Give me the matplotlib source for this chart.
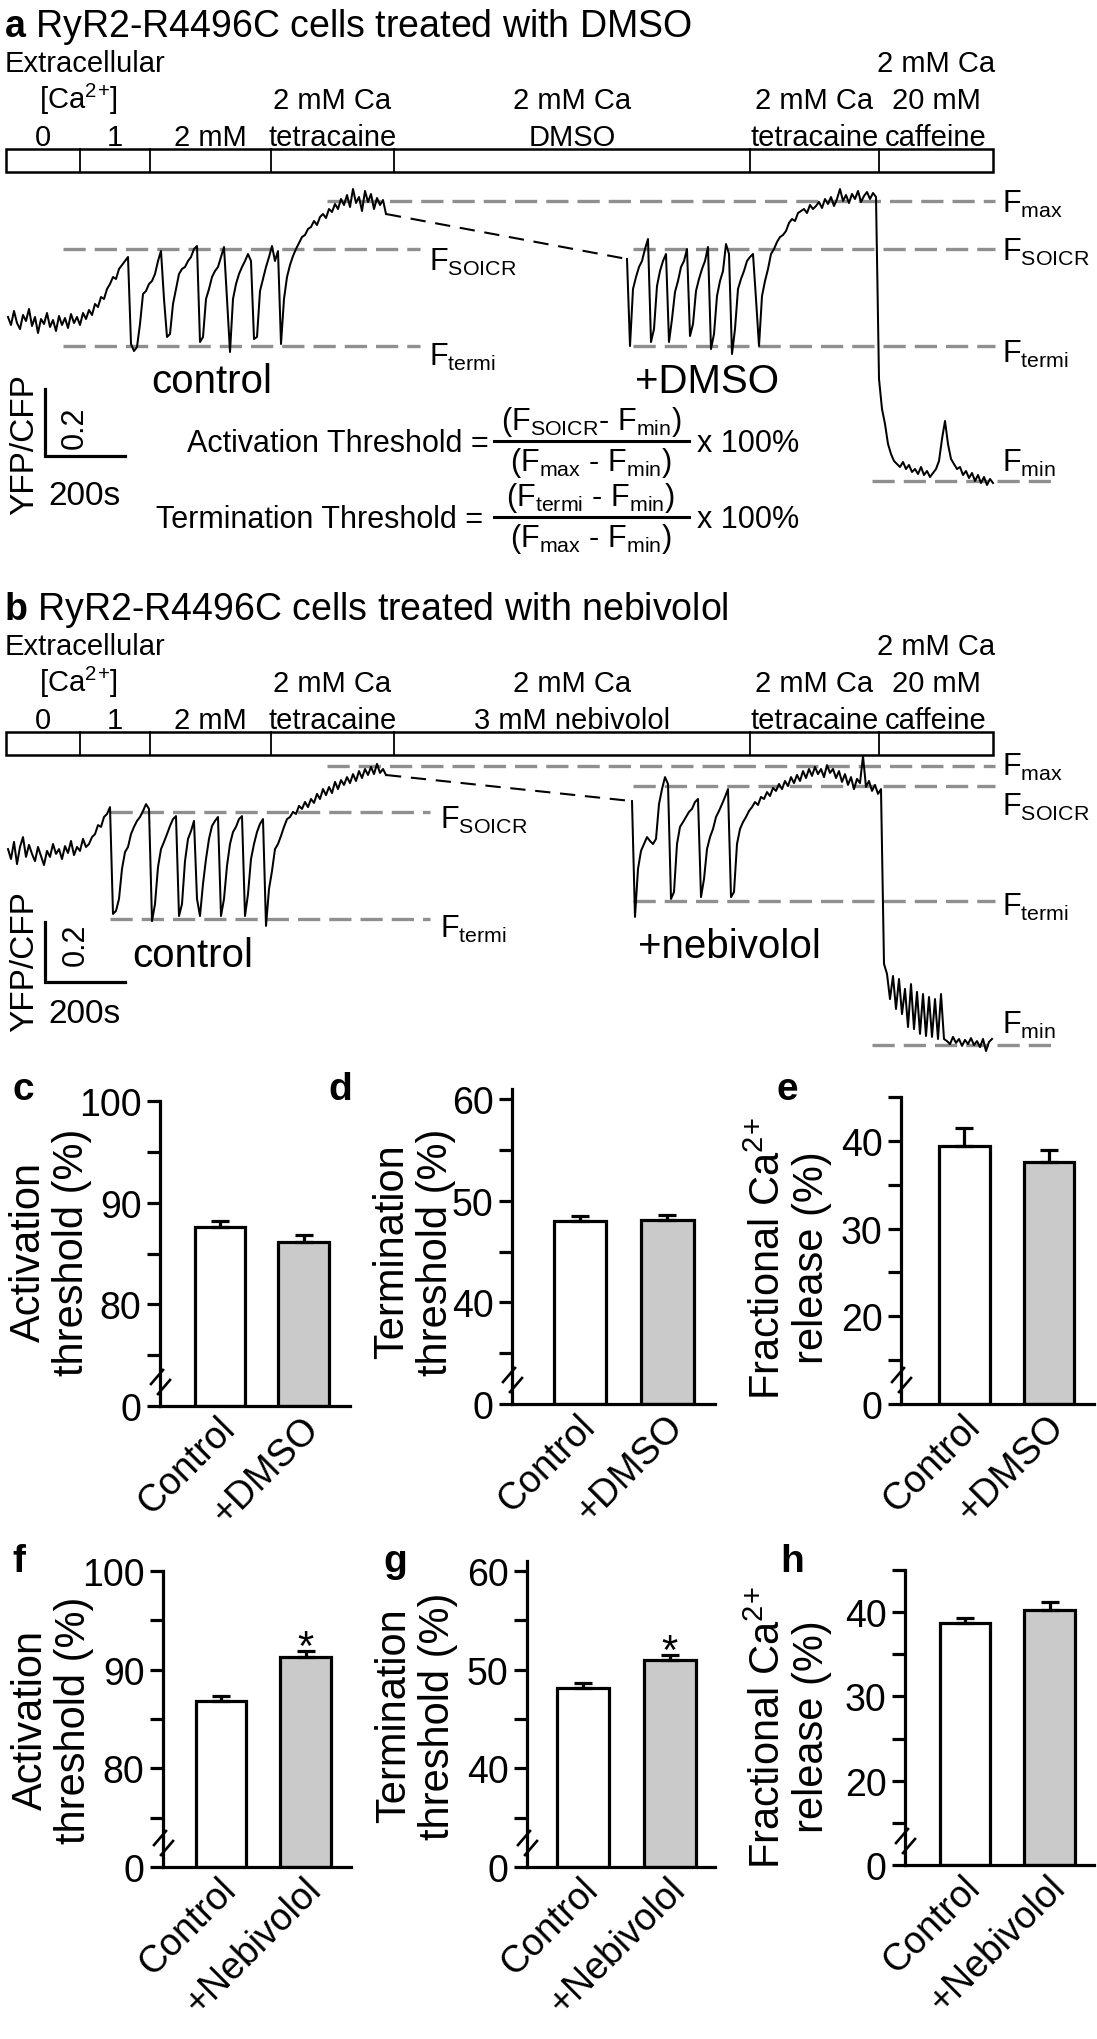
import matplotlib
matplotlib.use("Agg")
import matplotlib.pyplot as plt
import matplotlib.transforms as mtransforms
from matplotlib.patches import Rectangle
import numpy as np

plt.rcParams['font.family'] = ['Liberation Sans', 'DejaVu Sans']
plt.rcParams['mathtext.fontset'] = 'custom'
plt.rcParams['mathtext.rm'] = 'Liberation Sans'
plt.rcParams['mathtext.it'] = 'Liberation Sans:italic'
plt.rcParams['mathtext.bf'] = 'Liberation Sans:bold'
plt.rcParams['lines.scale_dashes'] = False

W, H = 1097, 2040

# ---------------- FRET traces (YFP/CFP ratio), one sample every 7.5 s
dt = 7.5
a_ctrl_t0 = 5.0
a_ctrl = [0.846, 0.822, 0.864, 0.828, 0.810, 0.852, 0.834, 0.870, 0.819, 0.846,
          0.798, 0.840, 0.825, 0.858, 0.816, 0.837, 0.804, 0.849, 0.822, 0.843,
          0.813, 0.855, 0.828, 0.846, 0.822, 0.858, 0.840, 0.867, 0.852, 0.885,
          0.876, 0.906, 0.900, 0.930, 0.945, 0.966, 0.960, 0.990, 1.002, 1.014,
          1.026, 0.765, 0.744, 0.756, 0.825, 0.915, 0.924, 0.945, 0.954, 0.975,
          1.014, 1.044, 0.900, 0.786, 0.795, 0.885, 0.930, 0.975, 0.990, 0.996,
          1.014, 1.026, 1.050, 1.059, 0.771, 0.786, 0.900, 0.930, 0.966, 0.984,
          0.996, 1.026, 1.056, 0.900, 0.741, 0.900, 0.945, 0.975, 0.996, 1.014,
          1.035, 1.014, 0.780, 0.786, 0.924, 0.960, 0.996, 1.026, 1.059, 1.014,
          1.044, 0.765, 0.900, 0.966, 1.002, 1.029, 1.050, 1.068, 1.086, 1.092,
          1.110, 1.116, 1.134, 1.122, 1.146, 1.155, 1.143, 1.170, 1.161, 1.185,
          1.170, 1.200, 1.182, 1.212, 1.176, 1.230, 1.188, 1.206, 1.164, 1.224,
          1.191, 1.215, 1.170, 1.203, 1.182, 1.197, 1.155]
a_drug_t0 = 1552.5
a_drug = [1.020, 0.759, 0.930, 0.966, 0.996, 1.014, 1.050, 1.080, 0.771, 0.810,
          0.939, 0.984, 1.014, 1.035, 0.771, 0.840, 0.921, 0.954, 0.996, 1.014,
          1.050, 0.789, 0.825, 0.924, 0.960, 0.990, 1.014, 1.056, 0.750, 0.795,
          0.909, 0.954, 0.984, 1.065, 1.035, 0.735, 0.810, 0.930, 0.960, 0.984,
          1.014, 1.026, 1.035, 0.900, 0.759, 0.909, 0.954, 0.990, 1.035, 1.050,
          1.071, 1.086, 1.092, 1.104, 1.128, 1.140, 1.134, 1.158, 1.164, 1.170,
          1.158, 1.182, 1.170, 1.179, 1.191, 1.173, 1.200, 1.185, 1.206, 1.179,
          1.200, 1.230, 1.194, 1.212, 1.188, 1.215, 1.200, 1.224, 1.191, 1.209,
          1.221, 1.200, 1.218, 1.206, 0.660, 0.570, 0.525, 0.465, 0.435, 0.414,
          0.405, 0.396, 0.411, 0.390, 0.402, 0.381, 0.390, 0.375, 0.396, 0.372,
          0.384, 0.366, 0.378, 0.390, 0.414, 0.480, 0.534, 0.465, 0.420, 0.405,
          0.390, 0.396, 0.372, 0.384, 0.363, 0.378, 0.354, 0.372, 0.348, 0.366,
          0.342, 0.360, 0.348]
b_ctrl_t0 = 5.0
b_ctrl = [0.833, 0.800, 0.857, 0.783, 0.840, 0.873, 0.807, 0.847, 0.817, 0.793,
          0.840, 0.810, 0.780, 0.827, 0.807, 0.850, 0.817, 0.833, 0.800, 0.843,
          0.820, 0.860, 0.813, 0.840, 0.827, 0.867, 0.840, 0.850, 0.873, 0.883,
          0.913, 0.907, 0.940, 0.950, 0.973, 0.617, 0.627, 0.667, 0.767, 0.823,
          0.840, 0.883, 0.907, 0.927, 0.940, 0.960, 0.983, 0.967, 0.593, 0.650,
          0.773, 0.833, 0.857, 0.883, 0.910, 0.933, 0.943, 0.610, 0.650, 0.793,
          0.867, 0.893, 0.927, 0.667, 0.610, 0.717, 0.800, 0.867, 0.910, 0.927,
          0.940, 0.610, 0.667, 0.777, 0.850, 0.890, 0.907, 0.933, 0.943, 0.610,
          0.683, 0.800, 0.850, 0.890, 0.917, 0.933, 0.577, 0.700, 0.760, 0.833,
          0.850, 0.877, 0.907, 0.933, 0.940, 0.957, 0.950, 0.977, 0.967, 0.990,
          0.973, 1.000, 0.987, 1.017, 1.000, 1.033, 1.013, 1.040, 1.020, 1.057,
          1.033, 1.063, 1.047, 1.073, 1.053, 1.083, 1.060, 1.093, 1.070, 1.100,
          1.080, 1.107, 1.083, 1.117, 1.087, 1.100, 1.080]
b_drug_t0 = 1565.0
b_drug = [0.993, 0.607, 0.767, 0.827, 0.850, 0.873, 0.860, 0.850, 0.867, 0.983,
          1.033, 1.073, 1.050, 0.667, 0.690, 0.850, 0.907, 0.923, 0.940, 0.957,
          0.967, 0.990, 1.000, 0.673, 0.733, 0.833, 0.873, 0.900, 0.940, 0.960,
          0.983, 1.007, 1.033, 0.673, 0.690, 0.850, 0.900, 0.923, 0.940, 0.960,
          0.973, 0.990, 0.980, 1.007, 1.000, 1.023, 1.010, 1.037, 1.027, 1.050,
          1.033, 1.060, 1.043, 1.073, 1.053, 1.080, 1.060, 1.093, 1.070, 1.100,
          1.077, 1.107, 1.083, 1.100, 1.073, 1.113, 1.087, 1.100, 1.070, 1.093,
          1.057, 1.083, 1.047, 1.073, 1.033, 1.067, 1.053, 1.143, 1.040, 1.060,
          1.027, 1.047, 1.017, 1.033, 0.450, 0.417, 0.333, 0.410, 0.300, 0.400,
          0.283, 0.367, 0.240, 0.383, 0.233, 0.357, 0.217, 0.350, 0.210, 0.340,
          0.207, 0.333, 0.200, 0.350, 0.200, 0.193, 0.183, 0.207, 0.187, 0.200,
          0.177, 0.197, 0.183, 0.203, 0.180, 0.193, 0.173, 0.200, 0.160, 0.190,
          0.200]

# solution changes (s) and protocol labels
switch_t = [0, 185, 360, 662.5, 970, 1860, 2182.5, 2467.5]
sol_a = [["0"], ["1"], ["2 mM"], ["2 mM Ca", "tetracaine"], ["2 mM Ca", "DMSO"],
         ["2 mM Ca", "tetracaine"], ["2 mM Ca", "20 mM", "caffeine"]]
sol_b = [["0"], ["1"], ["2 mM"], ["2 mM Ca", "tetracaine"], ["2 mM Ca", "3 mM nebivolol"],
         ["2 mM Ca", "tetracaine"], ["2 mM Ca", "20 mM", "caffeine"]]

# threshold levels (ratio)
a_fmax, a_fsoicr, a_ftermi, a_fmin = 1.194, 1.05, 0.759, 0.354
b_fmax, b_fmin = 1.11, 0.18
b_fsoicr_ctrl, b_ftermi_ctrl = 0.957, 0.60
b_fsoicr_drug, b_ftermi_drug = 1.043, 0.66

# ---------------- summary bars (mean, SEM)
names_dmso = ["Control", "+DMSO"]
names_neb = ["Control", "+Nebivolol"]
act_dmso, act_dmso_err = [87.6, 86.1], [0.6, 0.7]
term_dmso, term_dmso_err = [48.0, 48.1], [0.5, 0.5]
frac_dmso, frac_dmso_err = [39.4, 37.6], [2.1, 1.4]
act_neb, act_neb_err = [86.8, 91.3], [0.5, 0.6]
term_neb, term_neb_err = [48.1, 51.0], [0.5, 0.5]
frac_neb, frac_neb_err = [38.7, 40.2], [0.6, 1.0]

CA2 = 'Ca$^{2}$$^{+}$'

fig = plt.figure(figsize=(W / 100, H / 100), dpi=100)
pix = mtransforms.Affine2D().scale(1 / W, -1 / H).translate(0, 1) + fig.transFigure


def ftext(x, y, s, **kw):
    return fig.text(x, y, s, transform=pix, **kw)


def px_axes(x0, y0, x1, y1):
    return fig.add_axes([x0 / W, 1 - y1 / H, (x1 - x0) / W, (y1 - y0) / H])


def px_line(xs, ys, **kw):
    fig.add_artist(plt.Line2D(xs, ys, transform=pix, **kw))


GRAY = '#8f8f8f'


def level(ax, t0, t1, y, label=None, tl=None, dy=0):
    ax.plot([t0, t1], [y, y], color=GRAY, lw=2.4, dashes=(16, 6.5), zorder=1)
    if label:
        ax.annotate(label, xy=(tl, y), xytext=(0, -dy * 0.72), textcoords='offset points',
                    ha='left', va='baseline', fontsize=22)


def trace_panel(y0, y1, ylim, bar_top, title, sols, ctrl, ct0, drug, dt0, drug_name,
                ctrl_xy, drug_xy):
    ax = px_axes(0, y0, W, y1)
    ax.set_xlim(-15, 2727.5)
    ax.set_ylim(*ylim)
    ax.axis('off')
    bt = mtransforms.blended_transform_factory(ax.transData, pix)
    # protocol bar
    ax.add_patch(Rectangle((switch_t[0], bar_top), switch_t[-1] - switch_t[0], 23,
                           transform=bt, fill=False, lw=1.8, clip_on=False))
    for t in switch_t[1:-1]:
        ax.plot([t, t], [bar_top, bar_top + 23], color='k', lw=1.3, transform=bt, clip_on=False)
    for i, rows in enumerate(sols):
        tc = (switch_t[i] + switch_t[i + 1]) / 2
        for k, s in enumerate(reversed(rows)):
            ax.text(tc, bar_top - 4 - 37 * k, s, transform=bt, ha='center', va='baseline',
                    fontsize=21)
    ftext(5, bar_top - 78, 'Extracellular', fontsize=21, va='baseline')
    ax.text((switch_t[0] + switch_t[2]) / 2, bar_top - 41, '[' + CA2 + ']', transform=bt,
            ha='center', va='baseline', fontsize=21)
    ftext(4, bar_top - 113, title, fontsize=27, va='baseline')
    # traces
    tc_ = ct0 + dt * np.arange(len(ctrl))
    td_ = dt0 + dt * np.arange(len(drug))
    ax.plot(tc_, ctrl, color='k', lw=1.45, zorder=3)
    ax.plot(td_, drug, color='k', lw=1.45, zorder=3)
    ax.plot([tc_[-1], td_[0]], [ctrl[-1], drug[0]], color='k', lw=1.5, dashes=(11, 7), zorder=3)
    ftext(ctrl_xy[0], ctrl_xy[1], 'control', fontsize=29, va='baseline')
    ftext(drug_xy[0], drug_xy[1], drug_name, fontsize=29, va='baseline')
    return ax, bt


# ---------------- panel a
ax_a, bt_a = trace_panel(175, 510, (0.27, 1.275), 150,
                         r'$\mathbf{a}$ RyR2-R4496C cells treated with DMSO', sol_a,
                         a_ctrl, a_ctrl_t0, a_drug, a_drug_t0, '+DMSO', (151, 393), (635, 393))
level(ax_a, 802.5, 2472.5, a_fmax, 'F$_{\\mathrm{max}}$', 2490, 11)
level(ax_a, 142.5, 1035, a_fsoicr, 'F$_{\\mathrm{SOICR}}$', 1057.5, 21)
level(ax_a, 142.5, 1035, a_ftermi, 'F$_{\\mathrm{termi}}$', 1057.5, 19)
level(ax_a, 1567.5, 2472.5, a_fsoicr, 'F$_{\\mathrm{SOICR}}$', 2490, 11)
level(ax_a, 1567.5, 2472.5, a_ftermi, 'F$_{\\mathrm{termi}}$', 2490, 16)
level(ax_a, 2165, 2622.5, a_fmin, 'F$_{\\mathrm{min}}$', 2490, -10)
# scale bar
ax_a.plot([97.5, 97.5, 297.5], [0.429 + 0.2, 0.429, 0.429], color='k', lw=2.3,
          solid_joinstyle='miter')
ftext(25, 445, 'YFP/CFP', rotation=90, ha='center', va='center', fontsize=24)
ftext(75, 428, '0.2', rotation=90, ha='center', va='center', fontsize=22)
ftext(48, 505, '200s', va='baseline', fontsize=24)


# equations
def fraction(yc, left, num, x_left):
    ftext(x_left, yc + 2, left, ha='right', va='center', fontsize=22)
    px_line([494, 689], [yc, yc], color='k', lw=2.2)
    ftext(591, yc - 3, num, ha='center', va='bottom', fontsize=22)
    ftext(591, yc + 4, '(F$_{\\mathrm{max}}$ - F$_{\\mathrm{min}}$)', ha='center', va='top',
          fontsize=22)
    ftext(697, yc + 2, 'x 100%', ha='left', va='center', fontsize=22)


fraction(442, 'Activation Threshold =', '(F$_{\\mathrm{SOICR}}$- F$_{\\mathrm{min}}$)', 489)
fraction(518, 'Termination Threshold =', '(F$_{\\mathrm{termi}}$ - F$_{\\mathrm{min}}$)', 483)

# ---------------- panel b
ax_b, bt_b = trace_panel(755, 1090, (0.0333, 1.15), 733,
                         r'$\mathbf{b}$ RyR2-R4496C cells treated with nebivolol', sol_b,
                         b_ctrl, b_ctrl_t0, b_drug, b_drug_t0, '+nebivolol', (132, 967), (638, 958))
level(ax_b, 802.5, 2472.5, b_fmax, 'F$_{\\mathrm{max}}$', 2490, 9)
level(ax_b, 260, 1060, b_fsoicr_ctrl, 'F$_{\\mathrm{SOICR}}$', 1085, 16)
level(ax_b, 260, 1060, b_ftermi_ctrl, 'F$_{\\mathrm{termi}}$', 1085, 18)
level(ax_b, 1567.5, 2472.5, b_fsoicr_drug, 'F$_{\\mathrm{SOICR}}$', 2490, 29)
level(ax_b, 1567.5, 2472.5, b_ftermi_drug, 'F$_{\\mathrm{termi}}$', 2490, 14)
level(ax_b, 2165, 2622.5, b_fmin, 'F$_{\\mathrm{min}}$', 2490, -12)
ax_b.plot([97.5, 97.5, 297.5], [0.39 + 0.2, 0.39, 0.39], color='k', lw=2.3,
          solid_joinstyle='miter')
ftext(25, 962, 'YFP/CFP', rotation=90, ha='center', va='center', fontsize=24)
ftext(76, 945, '0.2', rotation=90, ha='center', va='center', fontsize=22)
ftext(48, 1023, '200s', va='baseline', fontsize=24)


# ---------------- bar charts
def bar_panel(box, xlim, ylim, major, vals, errs, names, ylabel, ylab_xy, letter, let_xy,
              star=False):
    ax = px_axes(*box)
    base = ylim[0]
    heights = [v - base for v in vals]
    ax.bar([0, 1], heights, bottom=base, width=0.6, color=['white', '#cacaca'],
           edgecolor='k', linewidth=2.3, zorder=2)
    ax.errorbar([0, 1], vals, yerr=[[0, 0], errs], fmt='none', ecolor='k', elinewidth=2.3,
                capsize=6.5, capthick=2.3, zorder=3)
    ax.set_xlim(*xlim)
    ax.set_ylim(*ylim)
    ax.set_yticks(major)
    ax.set_yticklabels(['0'] + [str(v) for v in major[1:]])
    ax.set_yticks([m + 5 for m in major if m + 5 <= ylim[1]], minor=True)
    ax.tick_params(axis='y', which='both', length=9.4, width=2.3, labelsize=27, pad=4)
    ax.set_xticks([0, 1])
    ax.set_xticklabels(names, rotation=45, ha='right', va='center', rotation_mode='anchor',
                       fontsize=27)
    ax.tick_params(axis='x', length=0, pad=12)
    for lab in ax.get_xticklabels():
        lab.set_transform(lab.get_transform() +
                          mtransforms.ScaledTranslation(7 / 72, 0, fig.dpi_scale_trans))
    for s in ['top', 'right']:
        ax.spines[s].set_visible(False)
    for s in ['left', 'bottom']:
        ax.spines[s].set_linewidth(2.3)
    # axis break marks
    x0, y1 = box[0], box[3]
    for dx, dy in [(-3, -29), (4, -19)]:
        px_line([x0 + dx - 6, x0 + dx + 6], [y1 + dy + 7, y1 + dy - 7], color='k', lw=1.9)
    if star:
        ax.annotate('*', xy=(1, vals[1] + errs[1]), xytext=(0, -6), textcoords='offset points',
                    ha='center', va='baseline', fontsize=30)
    ftext(ylab_xy[0], ylab_xy[1], ylabel, rotation=90, ha='center', va='center', fontsize=30,
          linespacing=1.1, multialignment='center')
    ftext(let_xy[0], let_xy[1], letter, fontsize=28, fontweight='bold', va='baseline')
    return ax


act_lab = 'Activation\nthreshold (%)'
term_lab = 'Termination\nthreshold (%)'
frac_lab = 'Fractional ' + CA2 + '\nrelease (%)'

bar_panel((160, 1102, 350, 1407), (-0.719, 1.557), (70, 100), [70, 80, 90, 100],
          act_dmso, act_dmso_err, names_dmso, act_lab, (50, 1252), 'c', (12, 1100))
bar_panel((512, 1090, 715, 1405), (-0.777, 1.543), (30, 61), [30, 40, 50, 60],
          term_dmso, term_dmso_err, names_dmso, term_lab, (414, 1252), 'd', (328, 1100))
bar_panel((901, 1098, 1094, 1405), (-0.751, 1.533), (10, 45), [10, 20, 30, 40],
          frac_dmso, frac_dmso_err, names_dmso, frac_lab, (790, 1258), 'e', (777, 1100))
bar_panel((163, 1572, 351, 1868), (-0.686, 1.538), (70, 100), [70, 80, 90, 100],
          act_neb, act_neb_err, names_neb, act_lab, (52, 1720), 'f', (12, 1572), star=True)
bar_panel((527, 1562, 715, 1868), (-0.646, 1.522), (30, 61), [30, 40, 50, 60],
          term_neb, term_neb_err, names_neb, term_lab, (416, 1716), 'g', (383, 1572), star=True)
bar_panel((905, 1571, 1094, 1866), (-0.706, 1.518), (10, 45), [10, 20, 30, 40],
          frac_neb, frac_neb_err, names_neb, frac_lab, (790, 1727), 'h', (780, 1572))

fig.savefig('out.png', dpi=100)
